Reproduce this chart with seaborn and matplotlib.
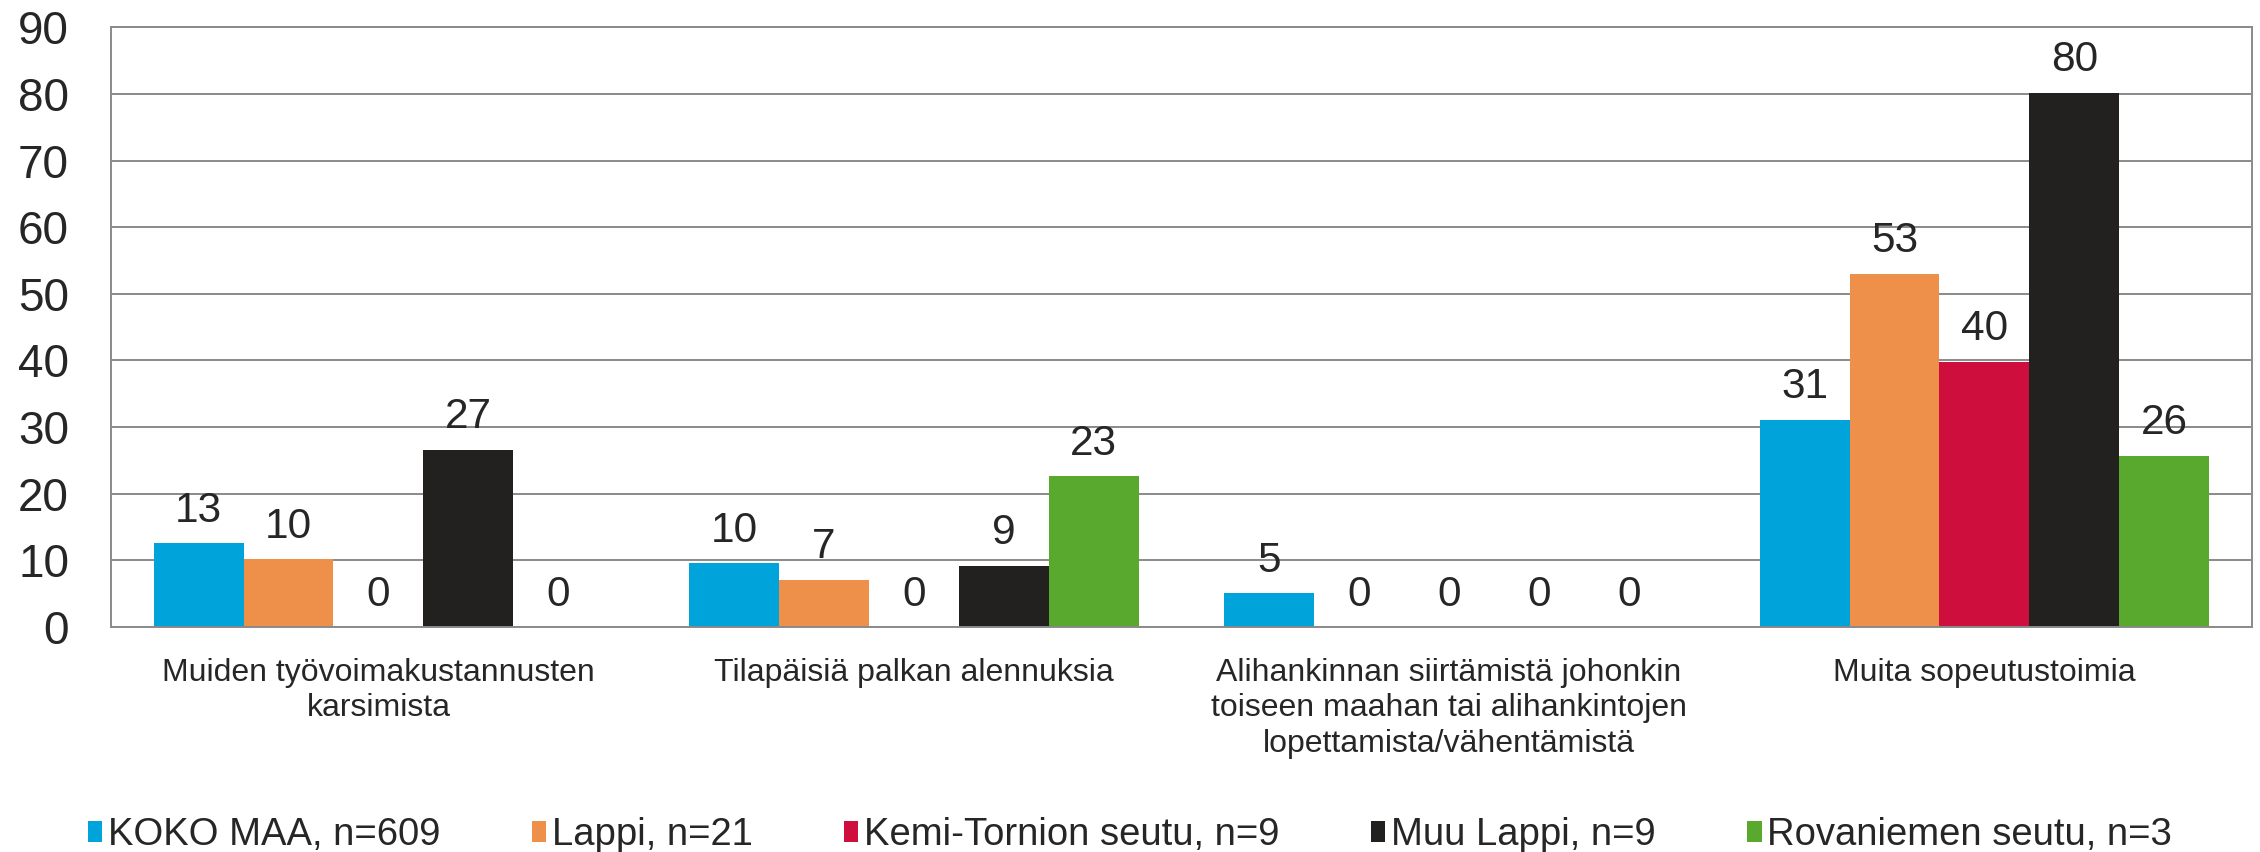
#!/usr/bin/env python3
"""Grouped bar chart: sopeutustoimet alueittain (%)."""

import pandas as pd
import matplotlib
matplotlib.use("Agg")
import matplotlib.pyplot as plt
import seaborn as sns

# --- data ---
categories = [
    "Muiden työvoimakustannusten\nkarsimista",
    "Tilapäisiä palkan alennuksia",
    "Alihankinnan siirtämistä johonkin\ntoiseen maahan tai alihankintojen\nlopettamista/vähentämistä",
    "Muita sopeutustoimia",
]
series = [
    "KOKO MAA, n=609",
    "Lappi, n=21",
    "Kemi-Tornion seutu, n=9",
    "Muu Lappi, n=9",
    "Rovaniemen seutu, n=3",
]
koko_maa = [12.6, 9.6, 5.1, 31.1]
lappi = [10.2, 7.1, 0, 53.0]
kemi_tornio = [0, 0, 0, 39.8]
muu_lappi = [26.6, 9.2, 0, 80.2]
rovaniemi = [0, 22.6, 0, 25.7]
colors = ["#00A3DA", "#EF904A", "#CE0F3E", "#222120", "#58A92E"]
y_ticks = list(range(0, 100, 10))

values = [koko_maa, lappi, kemi_tornio, muu_lappi, rovaniemi]
rows = []
for name, vals in zip(series, values):
    for cat, v in zip(categories, vals):
        rows.append({"category": cat, "series": name, "value": v})
df = pd.DataFrame(rows)

sns.set_style("white")
plt.rcParams["font.family"] = ["Liberation Sans", "DejaVu Sans"]

fig = plt.figure(figsize=(22.6, 8.52), dpi=100)
ax = fig.add_axes([0.049, 0.264, 0.9475, 0.704])

sns.barplot(data=df, x="category", y="value", hue="series",
            order=categories, hue_order=series, palette=colors,
            width=0.84, errorbar=None, linewidth=0, saturation=1,
            ax=ax)

# labels show rounded percentages
for cont, vals in zip(ax.containers, values):
    ax.bar_label(cont, labels=[f"{round(v)}" for v in vals],
                 padding=9, fontsize=30.5)

ax.set_ylim(0, 90)
ax.set_yticks(y_ticks)
ax.set_xlabel("")
ax.set_ylabel("")
ax.tick_params(axis="y", length=0, pad=30, labelsize=33)
ax.tick_params(axis="x", length=0, pad=22, labelsize=23)
for lbl in ax.get_xticklabels():
    lbl.set_linespacing(1.25)

ax.yaxis.grid(True, color="#8a8a8a", linewidth=1.4)
ax.set_axisbelow(True)
for sp in ax.spines.values():
    sp.set_visible(True)
    sp.set_color("#8a8a8a")
    sp.set_linewidth(1.4)

handles, labels = ax.get_legend_handles_labels()
ax.legend_.remove()
fig.legend(handles, labels, loc="center", bbox_to_anchor=(0.5, 0.02),
           ncol=5, frameon=False, fontsize=27.5,
           handlelength=0.37, handleheight=0.5, handletextpad=0.15,
           columnspacing=2.4)

fig.savefig("out.png", dpi=100)
plt.close(fig)
